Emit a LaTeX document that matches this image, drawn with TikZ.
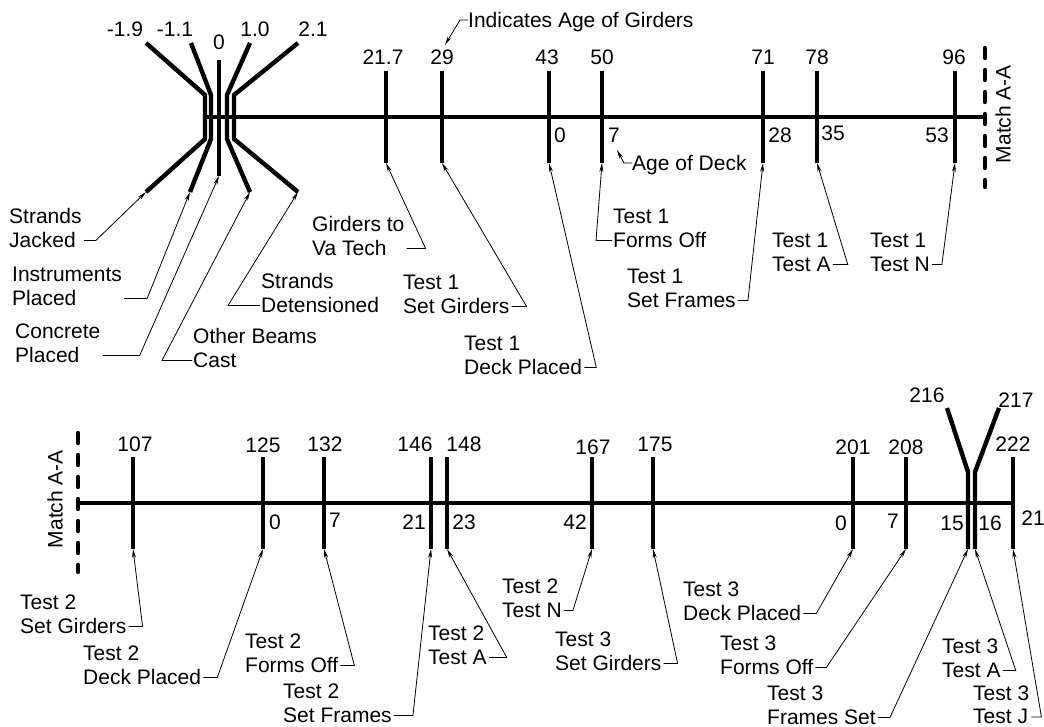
\documentclass[tikz,border=0pt]{standalone}
\usepackage{fontspec}
\setmainfont{Liberation Sans}
\usetikzlibrary{arrows.meta}
\begin{document}
\begin{tikzpicture}[x=1pt,y=-1pt,
  bar/.style={line width=4.4pt},
  matchline/.style={line width=4.4pt, line cap=round, dash pattern=on 10pt off 12pt},
  num/.style={inner sep=0pt, font=\fontsize{21}{23.5}\selectfont},
  txt/.style={inner sep=0pt, align=left, anchor=south west, font=\fontsize{21}{23.5}\selectfont},
  lead/.style={line width=0.8pt, -{Stealth[length=9pt,width=4pt]}},
]
\useasboundingbox (0,0) rectangle (1044,727);

% ---------------- top timeline ----------------
\coordinate (T0) at (203,117); \coordinate (T1) at (985,117);
\draw[bar] (T0) -- (T1);
% cluster
\coordinate (eA) at (146,192); \coordinate (eB) at (190,192);
\coordinate (eC) at (219,176); \coordinate (eD) at (250,192);
\coordinate (eE) at (298,192);
\draw[bar] (146,43) -- (205,95) -- (205,139) -- (eA);
\draw[bar] (191,43) -- (211,95) -- (211,139) -- (eB);
\draw[bar] (219,60) -- (eC);
\draw[bar] (250,43) -- (227,95) -- (227,139) -- (eD);
\draw[bar] (298,43) -- (234,95) -- (234,139) -- (eE);
\node[num] (lm19) at (125,29) {-1.9};
\node[num] (lm11) at (175,29) {-1.1};
\node[num] (l0c) at (219,42) {0};
\node[num] (l10) at (255,29) {1.0};
\node[num] (l21) at (313,29) {2.1};
% ticks
\foreach \n/\x in {a/386,b/442,c/549,d/602,e/763,f/817,g/955}{
  \coordinate (t\n) at (\x,71); \coordinate (e\n) at (\x,163);
  \draw[bar] (t\n) -- (e\n);
}
\node[num] (l217) at (383,57) {21.7};
\node[num] (l29) at (442,57) {29};
\node[num] (l43) at (547,57) {43};
\node[num] (l50) at (602,57) {50};
\node[num] (l71) at (763,57) {71};
\node[num] (l78) at (817,57) {78};
\node[num] (l96) at (954,57) {96};
\node[num] (d0) at (560,135) {0};
\node[num] (d7) at (614,135) {7};
\node[num] (d28) at (780,135) {28};
\node[num] (d35) at (833,133) {35};
\node[num] (d53) at (937,135) {53};
% match line
\coordinate (M0) at (985,48); \coordinate (M1) at (985,187);
\draw[matchline] (M0) -- (M1);
\node[num, rotate=90] (mt) at (1003,114) {Match A-A};

% notes
\node[num, anchor=base west] (ia) at (468,27.5) {Indicates Age of Girders};
\draw[lead] ([yshift=7.5pt]ia.base west) -- ++(-8,0) -- ([xshift=3pt,yshift=4.5pt]l29.north);
\node[num, anchor=base west] (ad) at (632,170.5) {Age of Deck};
\draw[lead] ([yshift=7.5pt]ad.base west) -- ++(-8,0) -- ([xshift=3pt,yshift=-7.5pt]d7.south);

% labels top
\node[txt] (sj) at (9,247.5) {Strands\\Jacked};
\node[txt] (ip) at (12,305.5) {Instruments\\Placed};
\node[txt] (cp) at (15,362.5) {Concrete\\Placed};
\node[txt] (ob) at (193,367.5) {Other Beams\\Cast};
\node[txt] (sd) at (261,312.5) {Strands\\Detensioned};
\node[txt] (gv) at (312,255.5) {Girders to\\Va Tech};
\node[txt] (s1g) at (403,313.5) {Test 1\\Set Girders};
\node[txt] (s1d) at (464,374.5) {Test 1\\Deck Placed};
\node[txt] (s1f) at (613,247.5) {Test 1\\Forms Off};
\node[txt] (s1r) at (627,307.5) {Test 1\\Set Frames};
\node[txt] (s1a) at (772,271.5) {Test 1\\Test A};
\node[txt] (s1n) at (870,271.5) {Test 1\\Test N};

\draw[lead] ([xshift=2pt,yshift=7pt]sj.south east) -- ++(12,0) -- (eA);
\draw[lead] ([xshift=2pt,yshift=7pt]ip.south east) -- ++(23,0) -- (eB);
\draw[lead] ([xshift=2pt,yshift=7pt]cp.south east) -- ++(37,0) -- (eC);
\draw[lead] ([xshift=-1pt,yshift=7pt]ob.south west) -- ++(-30,0) -- (eD);
\draw[lead] ([xshift=-1pt,yshift=7pt]sd.south west) -- ++(-32,0) -- (eE);
\draw[lead] ([xshift=2pt,yshift=7pt]gv.south east) -- ++(19,0) -- (ea);
\draw[lead] ([xshift=2pt,yshift=7pt]s1g.south east) -- ++(15,0) -- (eb);
\draw[lead] ([xshift=2pt,yshift=7pt]s1d.south east) -- ++(12,0) -- (ec);
\draw[lead] ([xshift=-1pt,yshift=7pt]s1f.south west) -- ++(-16,0) -- (ed);
\draw[lead] ([xshift=2pt,yshift=7pt]s1r.south east) -- ++(10,0) -- (ee);
\draw[lead] ([xshift=2pt,yshift=7pt]s1a.south east) -- ++(15,0) -- (ef);
\draw[lead] ([xshift=2pt,yshift=7pt]s1n.south east) -- ++(10,0) -- (eg);

% ---------------- bottom timeline ----------------
\coordinate (B0) at (78,503); \coordinate (B1) at (1013,503);
\draw[bar] (B0) -- (B1);
\coordinate (N0) at (78,433); \coordinate (N1) at (78,572);
\draw[matchline] (N0) -- (N1);
\node[num, rotate=90] (mb) at (55,499) {Match A-A};
\foreach \n/\x in {A/133,B/263,C/324,D/431,E/447,F/592,G/653,H/853,I/906,J/1013}{
  \coordinate (u\n) at (\x,457); \coordinate (f\n) at (\x,549);
  \draw[bar] (u\n) -- (f\n);
}
\coordinate (fK) at (968,549); \coordinate (fL) at (975,549);
\draw[bar] (947,408) -- (968,472) -- (fK);
\draw[bar] (999,408) -- (975,472) -- (fL);

\node[num] (n107) at (135,444) {107};
\node[num] (n125) at (263,445) {125};
\node[num] (n132) at (325,444) {132};
\node[num] (n146) at (415,444) {146};
\node[num] (n148) at (464,444) {148};
\node[num] (n167) at (593,447) {167};
\node[num] (n175) at (655,444) {175};
\node[num] (n201) at (853,447) {201};
\node[num] (n208) at (906,447) {208};
\node[num] (n216) at (927,395) {216};
\node[num] (n217) at (1016,400) {217};
\node[num] (n222) at (1013,444) {222};
\node[num] (m0) at (275,522) {0};
\node[num] (m7) at (335,520) {7};
\node[num] (m21) at (414,522) {21};
\node[num] (m23) at (464,522) {23};
\node[num] (m42) at (575,522) {42};
\node[num] (m0b) at (841,523) {0};
\node[num] (m7b) at (893,521) {7};
\node[num] (m15) at (952,523) {15};
\node[num] (m16) at (990,523) {16};
\node[num] (m21b) at (1033,518) {21};

\node[txt] (s2g) at (20,633.5) {Test 2\\Set Girders};
\node[txt] (s2d) at (83,684.5) {Test 2\\Deck Placed};
\node[txt] (s2f) at (245,672.5) {Test 2\\Forms Off};
\node[txt] (s2r) at (283,722.5) {Test 2\\Set Frames};
\node[txt] (s2a) at (428,664.5) {Test 2\\Test A};
\node[txt] (s2n) at (502,617.5) {Test 2\\Test N};
\node[txt] (s3g) at (555,670.5) {Test 3\\Set Girders};
\node[txt] (s3d) at (683,620.5) {Test 3\\Deck Placed};
\node[txt] (s3f) at (720,674.5) {Test 3\\Forms Off};
\node[txt] (s3r) at (767,724.5) {Test 3\\Frames Set};
\node[txt] (s3a) at (942,677.5) {Test 3\\Test A};
\node[txt] (s3j) at (973,724) {Test 3\\Test J};

\draw[lead] ([xshift=2pt,yshift=7pt]s2g.south east) -- ++(14,0) -- (fA);
\draw[lead] ([xshift=2pt,yshift=7pt]s2d.south east) -- ++(14,0) -- (fB);
\draw[lead] ([xshift=2pt,yshift=7pt]s2f.south east) -- ++(14,0) -- (fC);
\draw[lead] ([xshift=2pt,yshift=7pt]s2r.south east) -- ++(19,0) -- (fD);
\draw[lead] ([xshift=2pt,yshift=7pt]s2a.south east) -- ++(18,0) -- (fE);
\draw[lead] ([xshift=2pt,yshift=7pt]s2n.south east) -- ++(9,0) -- (fF);
\draw[lead] ([xshift=2pt,yshift=7pt]s3g.south east) -- ++(14,0) -- (fG);
\draw[lead] ([xshift=2pt,yshift=7pt]s3d.south east) -- ++(13,0) -- (fH);
\draw[lead] ([xshift=2pt,yshift=7pt]s3f.south east) -- ++(11,0) -- (fI);
\draw[lead] ([xshift=2pt,yshift=7pt]s3r.south east) -- ++(12,0) -- (fK);
\draw[lead] ([xshift=2pt,yshift=7pt]s3a.south east) -- ++(13,0) -- (fL);
\draw[lead] ([xshift=2pt,yshift=7pt]s3j.south east) -- ++(10,0) -- (fJ);
\end{tikzpicture}
\end{document}
